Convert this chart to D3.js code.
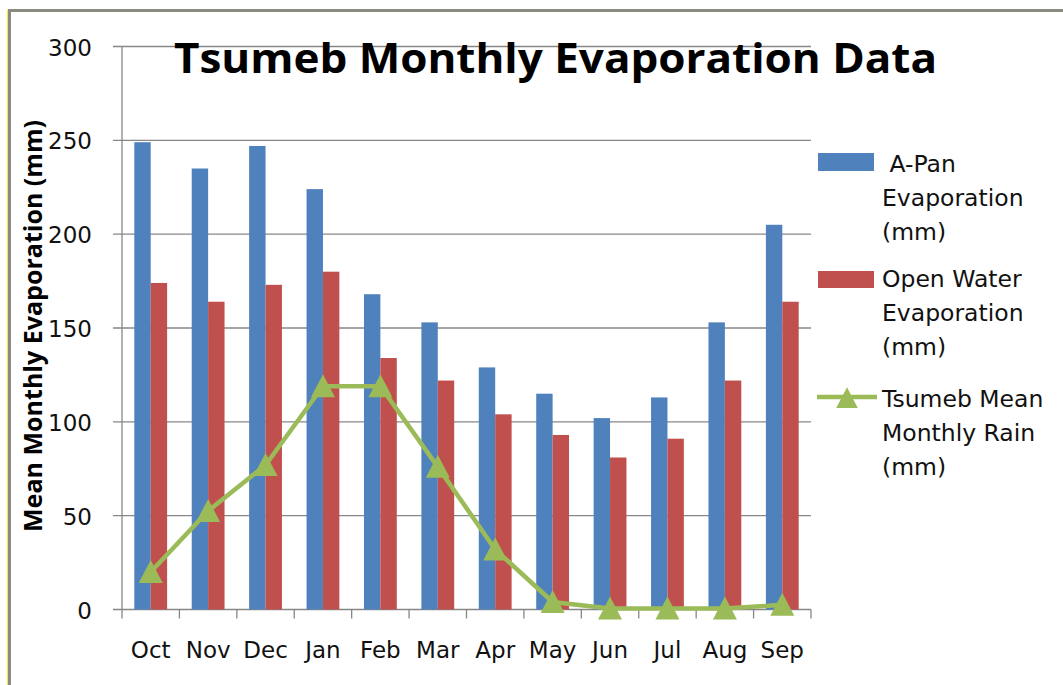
<!DOCTYPE html>
<html><head><meta charset="utf-8">
<script src="https://cdn.jsdelivr.net/npm/d3@7"></script>
<style>body{margin:0;background:#fff}svg{display:block}</style>
</head><body>
<script>
const months = ["Oct","Nov","Dec","Jan","Feb","Mar","Apr","May","Jun","Jul","Aug","Sep"];
const aPan = [249,235,247,224,168,153,129,115,102,113,153,205];
const openWater = [174,164,173,180,134,122,104,93,81,91,122,164];
const rain = [20,52.5,77,119,119,76,32,4,0.5,0.5,0.5,2.5];
const yTicks = [0,50,100,150,200,250,300];
const seriesNames = [[" A-Pan","Evaporation","(mm)"],["Open Water","Evaporation","(mm)"],["Tsumeb Mean","Monthly Rain","(mm)"]];
const colors = ["#4F81BD","#C0504D","#9BBB59"];

const W=1063,H=685;
const svg=d3.select("body").append("svg").attr("width",W).attr("height",H);
const font="'DejaVu Sans', sans-serif";

// border
svg.append("line").attr("x1",7.5).attr("x2",7.5).attr("y1",10).attr("y2",H).attr("stroke","#eeee30").attr("stroke-width",1);
svg.append("line").attr("x1",9.5).attr("x2",9.5).attr("y1",9).attr("y2",H).attr("stroke","#8a8a80").attr("stroke-width",3);
svg.append("line").attr("x1",8).attr("x2",W).attr("y1",10.5).attr("y2",10.5).attr("stroke","#8a8a80").attr("stroke-width",3);

const x=d3.scaleBand().domain(months).range([122,811]).padding(0);
const bw=x.bandwidth();
const inset=bw*0.75/3.5;
const x1=d3.scaleBand().domain([0,1]).range([inset,bw-inset]).padding(0);
const y=d3.scaleLinear().domain([0,300]).range([609.5,46.5]);

// gridlines
svg.append("g").selectAll("line").data(yTicks).join("line")
 .attr("x1",113).attr("x2",811).attr("y1",d=>y(d)).attr("y2",d=>y(d))
 .attr("stroke","#878787").attr("stroke-width",1.3);
// y axis line
svg.append("line").attr("x1",122).attr("x2",122).attr("y1",y(300)).attr("y2",y(0)).attr("stroke","#878787").attr("stroke-width",1.3);
// x ticks
const bounds=months.map(m=>x(m)).concat([x(months[11])+bw]);
svg.append("g").selectAll("line").data(bounds).join("line")
 .attr("x1",d=>d).attr("x2",d=>d).attr("y1",y(0)).attr("y2",y(0)+9)
 .attr("stroke","#878787").attr("stroke-width",1.3);

// y tick labels
svg.append("g").selectAll("text").data(yTicks).join("text")
 .attr("x",92).attr("y",d=>y(d)+9).attr("text-anchor","end")
 .attr("font-family",font).attr("font-size",23).attr("fill","#111").text(d=>d);
// x labels
svg.append("g").selectAll("text").data(months).join("text")
 .attr("x",d=>x(d)+bw/2).attr("y",658).attr("text-anchor","middle")
 .attr("font-family",font).attr("font-size",23).attr("fill","#111").text(d=>d);

// bars
[aPan,openWater].forEach((arr,si)=>{
 svg.append("g").selectAll("rect").data(arr).join("rect")
  .attr("x",(d,i)=>x(months[i])+x1(si)).attr("width",x1.bandwidth())
  .attr("y",d=>y(d)).attr("height",d=>y(0)-y(d)).attr("fill",colors[si]);
});

// rain line
const tri="M0,-12L12,11L-12,11Z";
const line=d3.line().x((d,i)=>x(months[i])+bw/2).y(d=>y(d));
svg.append("path").datum(rain).attr("d",line).attr("fill","none").attr("stroke",colors[2]).attr("stroke-width",4.5);
svg.append("g").selectAll("path").data(rain).join("path")
 .attr("transform",(d,i)=>`translate(${x(months[i])+bw/2},${y(d)})`).attr("d",tri).attr("fill",colors[2]);

// title
svg.append("text").attr("x",174).attr("y",73).attr("font-family","'Open Sans', Lato, sans-serif").attr("font-weight","bold")
 .attr("font-size",42).attr("textLength",763).attr("lengthAdjust","spacingAndGlyphs").attr("fill","#000")
 .text("Tsumeb Monthly Evaporation Data");

// y axis title
svg.append("text").attr("transform","translate(42,532) rotate(-90)").attr("font-family","'Open Sans', sans-serif")
 .attr("font-weight","bold").attr("font-size",25).attr("textLength",412).attr("lengthAdjust","spacingAndGlyphs")
 .attr("fill","#000").text("Mean Monthly Evaporation (mm)");

// legend
const lg=svg.append("g");
const base=[172,287,407];
lg.append("rect").attr("x",818).attr("y",153).attr("width",56).attr("height",18).attr("fill",colors[0]);
lg.append("rect").attr("x",818).attr("y",271).attr("width",56).attr("height",17).attr("fill",colors[1]);
lg.append("line").attr("x1",817).attr("x2",877).attr("y1",397).attr("y2",397).attr("stroke",colors[2]).attr("stroke-width",4.5);
lg.append("path").attr("transform","translate(847,398) scale(0.9)").attr("d",tri).attr("fill",colors[2]);
seriesNames.forEach((lines,si)=>{
 const t=lg.append("text").attr("font-family",font).attr("font-size",23.5).attr("fill","#111").attr("xml:space","preserve");
 lines.forEach((l,li)=>{
  t.append("tspan").attr("x",882).attr("y",base[si]+li*34).text(l);
 });
});
</script>
</body></html>
